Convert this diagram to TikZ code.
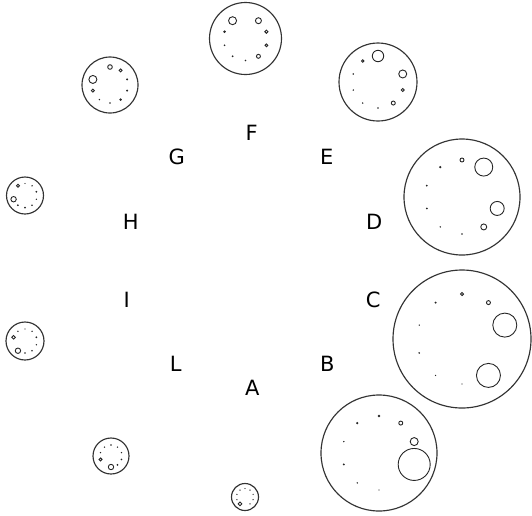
\documentclass[tikz,border=0pt]{standalone}
\usepackage{fontspec}
\setmainfont{DejaVu Sans}
\begin{document}
\begin{tikzpicture}[x=1pt,y=-1pt,
  outer/.style={circle,draw=black!80,line width=1.15pt,inner sep=0pt,minimum size=#1},
  inopen/.style={draw=black!85,line width=0.9pt},
  indot/.style={fill=black!85},
  lab/.style={inner sep=0pt,font=\fontsize{21}{21}\selectfont}]
\useasboundingbox (0,0) rectangle (532,515);
% outer circles
\node[outer=72pt] (cF) at (245.5,38.5) {};
\node[outer=78pt] (cE) at (378,82) {};
\node[outer=116pt] (cD) at (462,197) {};
\node[outer=138pt] (cC) at (462,339) {};
\node[outer=116pt] (cB) at (379,453) {};
\node[outer=27pt] (cA) at (245,497) {};
\node[outer=36pt] (cL) at (111,456) {};
\node[outer=38pt] (cI) at (25,341) {};
\node[outer=37pt] (cH) at (25,195.5) {};
\node[outer=56pt] (cG) at (110,85) {};
% inner rings (angle/radius/kind)
\foreach \a/\s/\k in {-90/0.9/indot,-54/2/inopen,-18/1.4/inopen,18/1.6/inopen,54/3/inopen,126/4/inopen,162/1.4/indot,198/0.9/indot,234/1/indot}
  \path[\k] ([shift={(\a:22pt)}]cF.center) circle[radius=\s pt];
\foreach \a/\s/\k in {90/5.7/inopen,126/1.3/inopen,18/4/inopen,162/0.9/indot,-18/1.5/inopen,198/0.8/indot,-54/2/inopen,234/0.8/indot,-90/0.8/indot}
  \path[\k] ([shift={(\a:26pt)}]cE.center) circle[radius=\s pt];
\foreach \a/\s/\k in {90/2/inopen,54/9/inopen,126/1.3/indot,162/1/indot,-18/7/inopen,198/1/indot,-54/3/inopen,234/0.8/indot,-90/0.8/indot}
  \path[\k] ([shift={(\a:37pt)}]cD.center) circle[radius=\s pt];
\foreach \a/\s/\k in {90/1.6/inopen,54/2/inopen,126/1.1/indot,18/12/inopen,162/0.7/indot,198/0.9/indot,-54/12/inopen,234/0.7/indot,-90/0.7/indot}
  \path[\k] ([shift={(\a:45pt)}]cC.center) circle[radius=\s pt];
\foreach \a/\s/\k in {90/1.3/indot,54/2/inopen,126/1.2/indot,18/4/inopen,162/0.8/indot,-18/16/inopen,198/1.1/indot,234/0.8/indot,-90/0.7/indot}
  \path[\k] ([shift={(\a:37pt)}]cB.center) circle[radius=\s pt];
\foreach \a/\s/\k in {90/2.3/inopen,54/1.5/inopen,18/1.1/indot,-18/1.1/indot,-54/1.4/indot,-90/0.8/indot,234/0.8/indot,198/1.5/inopen,162/4/inopen}
  \path[\k] ([shift={(\a:18pt)}]cG.center) circle[radius=\s pt];
\foreach \a/\s/\k in {126/1.5/inopen,90/0.7/indot,54/0.8/indot,18/1/indot,-18/0.7/indot,-54/0.9/indot,-90/1/indot,234/1/indot,198/2.7/inopen}
  \path[\k] ([shift={(\a:12pt)}]cH.center) circle[radius=\s pt];
\foreach \a/\s/\k in {162/1.8/inopen,126/0.8/indot,90/0.7/indot,54/0.8/indot,18/1/indot,-18/0.8/indot,-54/0.9/indot,-90/0.9/indot,234/2.7/inopen}
  \path[\k] ([shift={(\a:12pt)}]cI.center) circle[radius=\s pt];
\foreach \a/\s/\k in {-90/2.7/inopen,-54/1/indot,-18/0.9/indot,18/0.8/indot,54/0.8/indot,90/0.8/indot,126/0.8/indot,162/0.8/indot,198/1.5/inopen}
  \path[\k] ([shift={(\a:11pt)}]cL.center) circle[radius=\s pt];
\foreach \a/\s/\k in {234/1.8/inopen,-54/0.7/indot,-18/0.7/indot,18/0.7/indot,54/0.7/indot,90/0.7/indot,126/0.7/indot,162/0.7/indot,198/0.7/indot}
  \path[\k] ([shift={(\a:8.5pt)}]cA.center) circle[radius=\s pt];
% labels
\node[lab] (lF) at (251.7,132.7) {F};
\node[lab] (lG) at (176.7,157.3) {G};
\node[lab] (lE) at (326.7,157.3) {E};
\node[lab] (lH) at (130.7,221.7) {H};
\node[lab] (lD) at (374.3,221.7) {D};
\node[lab] (lI) at (126.7,300) {I};
\node[lab] (lC) at (373.3,300) {C};
\node[lab] (lL) at (175.7,364) {L};
\node[lab] (lB) at (327.3,364) {B};
\node[lab] (lA) at (252.3,388.3) {A};
\end{tikzpicture}
\end{document}
